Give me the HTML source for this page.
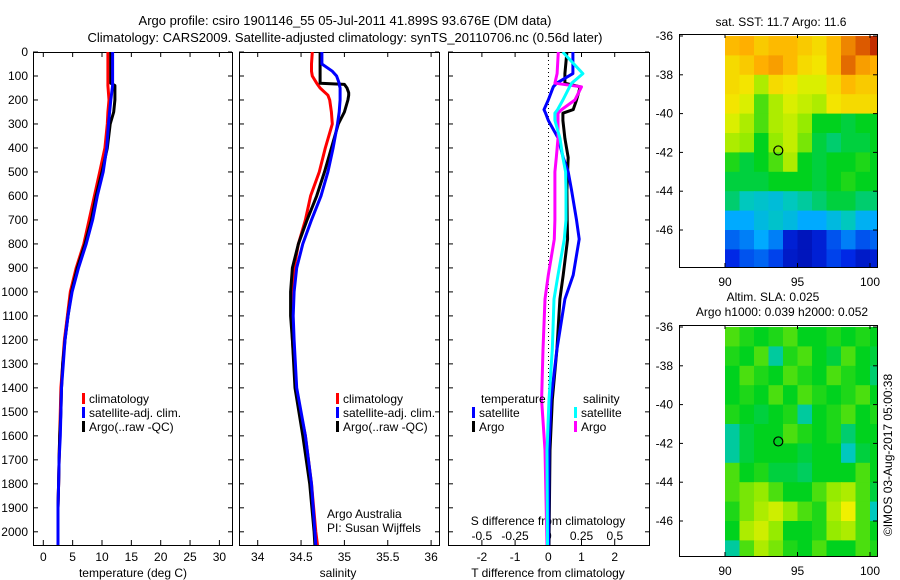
<!DOCTYPE html>
<html><head><meta charset="utf-8">
<style>
html,body{margin:0;padding:0;background:#fff;}
svg{display:block;font-family:"Liberation Sans",sans-serif;}
text{font-size:12px;fill:#000;}
</style></head>
<body>
<svg id="c" width="900" height="580" viewBox="0 0 900 580">
<text x="345" y="25" text-anchor="middle" style="font-size:13px">Argo profile: csiro 1901146_55 05-Jul-2011 41.899S 93.676E (DM data)</text>
<text x="345" y="42" text-anchor="middle" style="font-size:13px">Climatology: CARS2009. Satellite-adjusted climatology: synTS_20110706.nc (0.56d later)</text>
<g id="g"></g>
</svg>
<script>
// ---- data ----
const tDepth=[0,100,130,140,200,250,300,400,500,600,700,800,900,1000,1100,1200,1300,1400,1500,1600,1700,1800,1900,2000,2056];
const tClim=[11.0,11.0,11.0,11.0,11.2,11.0,10.9,10.5,9.6,8.7,7.8,6.9,5.6,4.6,4.1,3.6,3.3,3.0,2.9,2.8,2.7,2.6,2.5,2.5,2.5];
const tSat=[11.8,11.8,11.8,11.8,11.5,11.3,11.1,10.8,10.2,9.2,8.4,7.3,6.0,4.9,4.2,3.7,3.4,3.1,3.0,2.9,2.7,2.6,2.5,2.5,2.5];
const tArgo=[11.5,11.5,11.5,12.2,12.2,12.0,11.4,10.9,10.0,9.0,8.2,7.1,5.8,4.8,4.2,3.7,3.3,3.1,3.0,2.8,2.7,2.6,2.5,2.5,2.5];
const sDepth=[0,50,80,100,130,135,150,170,180,200,250,300,400,500,600,700,800,900,1000,1100,1200,1400,1600,1800,2000,2056];
const sClim=[34.63,34.62,34.62,34.63,34.68,34.69,34.72,34.78,34.81,34.83,34.85,34.86,34.78,34.71,34.61,34.55,34.47,34.42,34.40,34.39,34.40,34.44,34.55,34.62,34.67,34.69];
const sSat=[34.74,34.74,34.86,34.91,34.94,34.94,34.95,34.95,34.95,34.95,34.94,34.92,34.87,34.81,34.73,34.62,34.52,34.45,34.42,34.41,34.42,34.45,34.55,34.62,34.66,34.67];
const sArgo=[34.72,34.72,34.72,34.72,34.72,35.0,35.03,35.05,35.05,35.04,35.0,34.93,34.85,34.77,34.68,34.57,34.47,34.40,34.38,34.38,34.40,34.43,34.52,34.60,34.65,34.66];
const dDepth=[0,90,130,145,200,240,255,285,360,440,500,575,700,780,930,1030,1240,1450,1660,2056];
const dTSat=[0.74,0.74,0.25,0.15,0.0,-0.13,-0.08,0.0,0.3,0.45,0.6,0.7,0.85,0.93,0.75,0.5,0.26,0.08,0.02,0.01];
const dTArgo=[0.56,0.5,0.5,0.96,0.85,0.75,0.44,0.44,0.5,0.6,0.58,0.56,0.57,0.58,0.45,0.35,0.26,0.12,0.05,0.02];
const dSSat=[0.108,0.26,0.176,0.16,0.11,0.07,0.05,0.05,0.088,0.11,0.13,0.133,0.133,0.12,0.073,0.043,0.03,0.005,-0.01,-0.006];
const dSArgo=[0.075,0.066,0.05,0.25,0.2,0.1,0.073,0.073,0.073,0.06,0.05,0.05,0.05,0.045,0.0,-0.025,-0.04,-0.05,-0.025,-0.01];
const depthTicks=[0,100,200,300,400,500,600,700,800,900,1000,1100,1200,1300,1400,1500,1600,1700,1800,1900,2000];
const tempTicks=[0,5,10,15,20,25,30];
const salTicks=[34,34.5,35,35.5,36];
const tdTicks=[-2,-1,0,1,2];
const sdTicks=[-0.5,-0.25,0,0.25,0.5];
const latTicks=[-36,-38,-40,-42,-44,-46];
const lonTicks=[90,95,100];
const mapLons=[90,91,92,93,94,95,96,97,98,99,100];
const mapLats=[-36,-37,-38,-39,-40,-41,-42,-43,-44,-45,-46,-47];
const sst=[
[0.78,0.8,0.75,0.78,0.78,0.75,0.72,0.78,0.85,0.9,0.95],
[0.72,0.75,0.8,0.82,0.78,0.72,0.7,0.78,0.88,0.82,0.8],
[0.72,0.7,0.62,0.72,0.7,0.66,0.66,0.72,0.78,0.75,0.75],
[0.7,0.66,0.55,0.62,0.66,0.64,0.62,0.7,0.72,0.72,0.72],
[0.66,0.62,0.55,0.62,0.64,0.6,0.5,0.5,0.48,0.5,0.5],
[0.62,0.6,0.5,0.6,0.64,0.58,0.48,0.45,0.48,0.48,0.5],
[0.52,0.48,0.5,0.55,0.62,0.5,0.48,0.5,0.5,0.52,0.5],
[0.48,0.48,0.48,0.5,0.5,0.5,0.48,0.5,0.52,0.5,0.5],
[0.45,0.4,0.38,0.36,0.4,0.42,0.45,0.48,0.48,0.45,0.45],
[0.3,0.3,0.35,0.38,0.35,0.3,0.3,0.35,0.4,0.32,0.3],
[0.22,0.25,0.3,0.25,0.12,0.08,0.12,0.2,0.25,0.2,0.22],
[0.15,0.2,0.22,0.18,0.1,0.08,0.12,0.18,0.15,0.1,0.12]];
const sla=[
[0.55,0.52,0.5,0.52,0.55,0.5,0.5,0.52,0.5,0.52,0.5],
[0.52,0.5,0.55,0.42,0.52,0.55,0.5,0.48,0.55,0.5,0.48],
[0.5,0.55,0.52,0.5,0.55,0.52,0.5,0.55,0.52,0.5,0.45],
[0.5,0.52,0.5,0.55,0.5,0.55,0.52,0.5,0.52,0.55,0.5],
[0.52,0.5,0.48,0.5,0.52,0.42,0.5,0.52,0.55,0.5,0.52],
[0.42,0.48,0.5,0.5,0.55,0.52,0.5,0.52,0.45,0.5,0.5],
[0.42,0.48,0.5,0.5,0.5,0.48,0.5,0.5,0.4,0.48,0.5],
[0.55,0.5,0.52,0.48,0.48,0.46,0.5,0.5,0.5,0.55,0.5],
[0.55,0.58,0.6,0.55,0.5,0.5,0.55,0.6,0.62,0.55,0.48],
[0.52,0.58,0.62,0.65,0.6,0.55,0.52,0.62,0.68,0.55,0.4],
[0.5,0.62,0.65,0.6,0.5,0.5,0.52,0.6,0.62,0.55,0.5],
[0.42,0.55,0.62,0.58,0.52,0.5,0.55,0.5,0.5,0.55,0.52]];
const argoLon=93.676, argoLat=-41.9;

// ---- helpers ----
const NS='http://www.w3.org/2000/svg';
const G=document.getElementById('g');
function mk(tag,attrs,parent){const e=document.createElementNS(NS,tag);for(const k in attrs)e.setAttribute(k,attrs[k]);(parent||G).appendChild(e);return e;}
function txt(x,y,s,anchor,extra){const e=mk('text',Object.assign({x:x,y:y,'text-anchor':anchor||'middle'},extra||{}));e.textContent=s;return e;}
const yD=d=>52+d*0.2399;
const xT=t=>43.3+t*5.87;
const xS=s=>257.7+(s-34)*86.7;
const xTd=v=>548.3+v*33.2;
const xSd=v=>548.3+v*133;
const lonX=l=>725+(l-90)*14.5;
const latY1=la=>36+(-36-la)*19.4;
const latY2=la=>327+(-36-la)*19.4;

function box(x0,x1,y0,y1,name){
  const r=mk('rect',{x:x0+0.5,y:y0+0.5,width:x1-x0,height:y1-y0,fill:'none',stroke:'#000','stroke-width':1});
  
  
}
function series(xs,ds,xf,color,name,clip){
  const pts=ds.map((d,i)=>xf(xs[i]).toFixed(1)+','+yD(d).toFixed(1)).join(' ');
  const p=mk('polyline',{points:pts,fill:'none',stroke:color,'stroke-width':3,'stroke-linejoin':'round','clip-path':'url(#'+clip+')'});
  
  
}
const defs=mk('defs',{});
[['cp1',33,232],['cp2',239,439],['cp3',448,649]].forEach(([id,a,b])=>{const c=mk('clipPath',{id:id},defs);mk('rect',{x:a,y:52,width:b-a,height:493},c);});
[['cm1',724,34,877,267],['cm2',724,325,877,556]].forEach(([id,a,t,b,bt])=>{const c=mk('clipPath',{id:id},defs);mk('rect',{x:a,y:t,width:b-a,height:bt-t},c);});

// ---- profile panels ----
const panels=[[33,232,'temperature-panel'],[239,439,'salinity-panel'],[448,649,'difference-panel']];
panels.forEach(([a,b,n])=>{
  box(a,b,52,545,n+'-frame');
  depthTicks.forEach(d=>{const y=yD(d);mk('line',{x1:a,x2:a+5,y1:y,y2:y,stroke:'#000'});mk('line',{x1:b-4,x2:b,y1:y,y2:y,stroke:'#000'});});
});
depthTicks.forEach(d=>{const t=txt(28,yD(d)+4,String(d),'end');});
function xticks(ticks,f,y,fmt,name,top){ticks.forEach(v=>{const x=f(v);mk('line',{x1:x,x2:x,y1:545,y2:540,stroke:'#000'});if(top)mk('line',{x1:x,x2:x,y1:52,y2:57,stroke:'#000'});const t=txt(x,y,fmt(v));});}
xticks(tempTicks,xT,561,String,'temp-tick-label',true);
xticks(salTicks,xS,561,String,'salinity-tick-label',true);
xticks(tdTicks,xTd,561,String,'tdiff-tick-label',true);
sdTicks.forEach(v=>{const t=txt(xSd(v),540,String(v).replace('0.','.').replace('-.','-0.').replace(/^\./,'0.'));});
mk('line',{x1:548.5,x2:548.5,y1:52,y2:545,stroke:'#000','stroke-dasharray':'1,3'});
[['temperature (deg C)',133],['salinity',338],['T difference from climatology',548]].forEach(([s,x])=>{const t=txt(x,577,s);});
{const t=txt(548,525,'S difference from climatology');}

series(tClim,tDepth,xT,'#ff0000','temp-climatology-line','cp1');
series(tArgo,tDepth,xT,'#000000','temp-argo-line','cp1');
series(tSat,tDepth,xT,'#0000ff','temp-satellite-line','cp1');
series(sClim,sDepth,xS,'#ff0000','sal-climatology-line','cp2');
series(sArgo,sDepth,xS,'#000000','sal-argo-line','cp2');
series(sSat,sDepth,xS,'#0000ff','sal-satellite-line','cp2');
series(dTArgo,dDepth,xTd,'#000000','tdiff-argo-line','cp3');
series(dTSat,dDepth,xTd,'#0000ff','tdiff-satellite-line','cp3');
series(dSArgo,dDepth,xSd,'#ff00ff','sdiff-argo-line','cp3');
series(dSSat,dDepth,xSd,'#00ffff','sdiff-satellite-line','cp3');

function legEntry(x,y,color,label){
  const r=mk('rect',{x:x,y:y-6,width:3,height:11,fill:color});
  
  
  const t=txt(x+7,y+4,label,'start');
  
  
}
[[82,'#ff0000','climatology',399],[82,'#0000ff','satellite-adj. clim.',413],[82,'#000000','Argo(..raw -QC)',427]].forEach(([x,c,l,y])=>legEntry(x,y,c,l));
[[336,'#ff0000','climatology',399],[336,'#0000ff','satellite-adj. clim.',413],[336,'#000000','Argo(..raw -QC)',427]].forEach(([x,c,l,y])=>legEntry(x,y,c,l));
{const t=txt(481,403,'temperature','start');}
{const t=txt(583,403,'salinity','start');}
legEntry(472,413,'#0000ff','satellite');legEntry(472,427,'#000000','Argo');
legEntry(574,413,'#00ffff','satellite');legEntry(574,427,'#ff00ff','Argo');
{const t=txt(327,518,'Argo Australia','start');}
{const t=txt(327,532,'PI: Susan Wijffels','start');}

// ---- maps ----
function jet(v){
  const stops=[[0,[0,0,140]],[0.15,[0,40,230]],[0.3,[0,170,255]],[0.4,[0,200,190]],[0.5,[0,210,30]],[0.6,[150,235,0]],[0.68,[240,240,0]],[0.8,[255,175,0]],[0.9,[220,90,0]],[1,[170,0,0]]];
  for(let i=1;i<stops.length;i++){if(v<=stops[i][0]){const [a,ca]=stops[i-1],[b,cb]=stops[i];const f=(v-a)/(b-a);return 'rgb('+ca.map((c,k)=>Math.round(c+(cb[k]-c)*f)).join(',')+')';}}
  return 'rgb(170,0,0)';
}
function drawMap(grid,latY,clip,top,bot,name){
  const g=mk('g',{'clip-path':'url(#'+clip+')'});
  
  
  mapLats.forEach((la,i)=>mapLons.forEach((lo,j)=>{
    const x0=lonX(lo),y0=latY(la);
    const r=mk('rect',{x:x0.toFixed(1),y:y0.toFixed(1),width:(lonX(lo+1)-x0+0.6).toFixed(1),height:(latY(la-1)-y0+0.6).toFixed(1),fill:jet(grid[i][j])},g);
    
    
  }));
  box(679,877,top,bot,name+'-frame');
  latTicks.forEach(la=>{const y=latY(la);mk('line',{x1:679,x2:683,y1:y,y2:y,stroke:'#000'});mk('line',{x1:873,x2:877,y1:y,y2:y,stroke:'#000'});const t=txt(673,y+4,String(la),'end');});
  lonTicks.forEach(lo=>{const x=lonX(lo);mk('line',{x1:x,x2:x,y1:bot,y2:bot-4,stroke:'#000'});mk('line',{x1:x,x2:x,y1:top,y2:top+4,stroke:'#000'});const t=txt(x,bot+19,String(lo));});
  const c=mk('circle',{cx:lonX(argoLon),cy:latY(argoLat),r:4.5,fill:'none',stroke:'#000','stroke-width':1.2});
  
  
}
drawMap(sst,latY1,'cm1',34,267,'sst-map');
drawMap(sla,latY2,'cm2',325,556,'sla-map');
{const t=txt(781,26,'sat. SST: 11.7 Argo: 11.6');}
{const t=txt(773,301,'Altim. SLA: 0.025');}
{const t=txt(782,316,'Argo h1000: 0.039 h2000: 0.052');}
{const t=txt(0,0,'©IMOS 03-Aug-2017 05:00:38','middle',{transform:'translate(892,455) rotate(-90)'});}
</script>
</body></html>
